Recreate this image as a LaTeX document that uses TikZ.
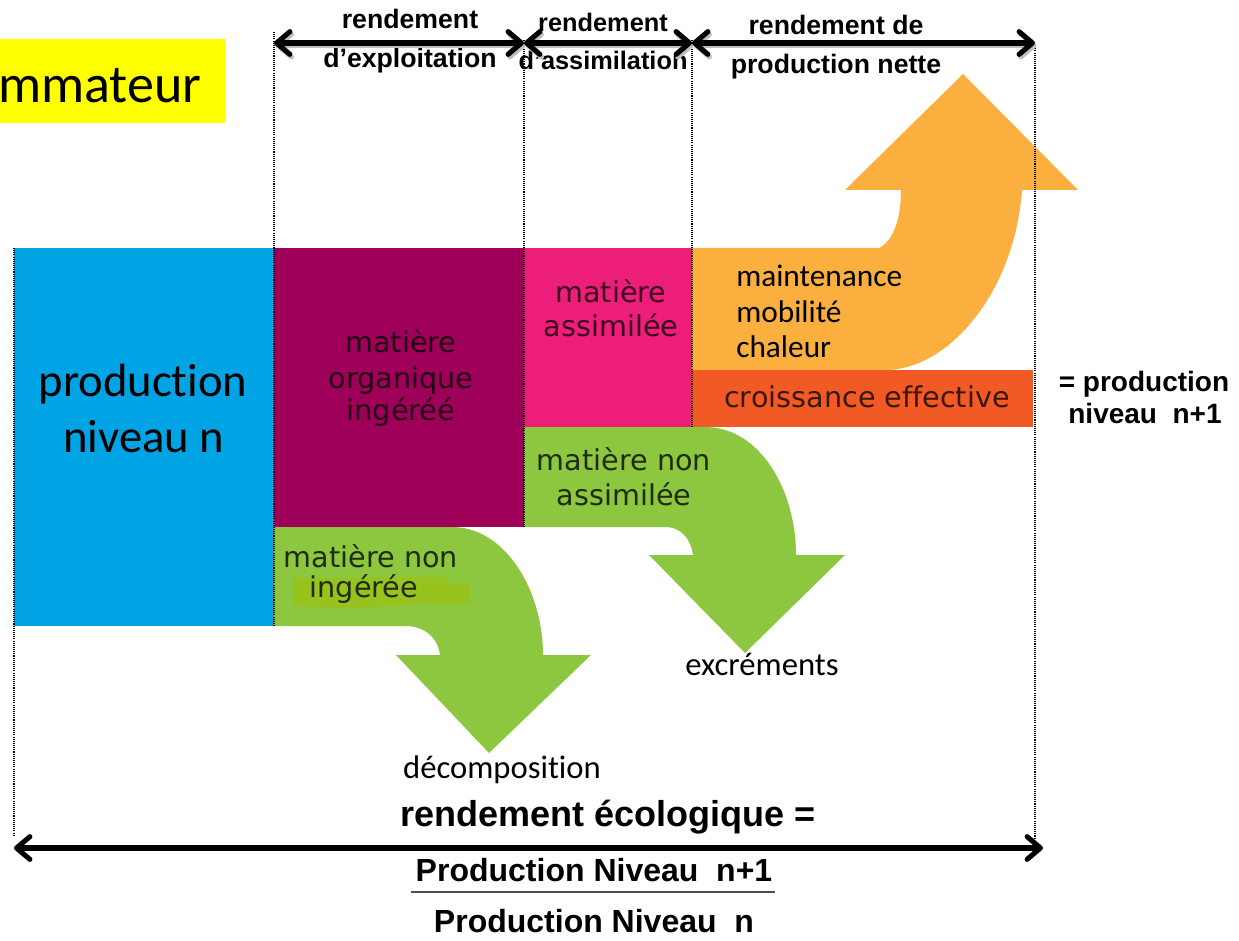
\documentclass[tikz,border=0pt]{standalone}
\usepackage{fontspec}
\setmainfont{Liberation Sans}
\newfontfamily\calfont{Carlito}[Ligatures=NoCommon]
\newfontfamily\verfont{DejaVu Sans}[Ligatures=NoCommon]
\usetikzlibrary{arrows.meta}

\definecolor{yellowbg}{RGB}{255,255,0}
\definecolor{bluebox}{RGB}{0,163,228}
\definecolor{purplebox}{RGB}{158,0,89}
\definecolor{pinkbox}{RGB}{237,30,121}
\definecolor{lightorange}{RGB}{250,175,62}
\definecolor{darkorange}{RGB}{241,90,36}
\definecolor{leafgreen}{RGB}{141,198,63}
\definecolor{limegreen}{RGB}{152,195,30}

\begin{document}
\begin{tikzpicture}[x=0.75pt,y=-0.75pt,
  txt/.style={inner sep=0pt, anchor=base},
  calsmall/.style={txt, font=\calfont\fontsize{23.5}{28}\selectfont},
  calbig/.style={txt, font=\calfont\fontsize{35}{42}\selectfont},
  verd/.style={txt, font=\verfont\fontsize{21.5}{26}\selectfont},
  boldlbl/.style={txt, font=\bfseries\fontsize{20}{24}\selectfont},
  measure/.style={line width=3.8pt,
    {Straight Barb[length=10pt,width=17pt,round]}-{Straight Barb[length=10pt,width=17pt,round]}},
  shade/.style={measure, draw=black!25, transform canvas={shift={(1.2pt,-2pt)}}},
  guide/.style={line width=0.8pt, dash pattern=on 0.8pt off 0.8pt}
]
\useasboundingbox (0,0) rectangle (1239,941);

% title strip, cut at the left edge
\fill[yellowbg] (0,39) rectangle (226,123);
\node[txt, anchor=base west, font=\calfont\fontsize{40.5}{48}\selectfont] (cons) at (-2,103) {mmateur};

% energy blocks
\fill[bluebox] (14,248) rectangle (274,626);
\fill[purplebox] (274,248) rectangle (524,527);
\fill[pinkbox] (524,248) rectangle (692,427);

% respiration arrow (upward)
\fill[lightorange] (692,248) -- (879,248) .. controls (895,240) and (901,215) .. (901,190)
  -- (845,190) -- (963,74) -- (1078,190) -- (1022,190)
  .. controls (1015,290) and (950,370) .. (885,370) -- (692,370) -- cycle;
\fill[darkorange] (692,370) rectangle (1033,427);

% losses (downward arrows)
\fill[leafgreen] (274,527) -- (452,527) .. controls (505,527) and (543,590) .. (543,655)
  -- (591,655) -- (489,753) -- (396,655) -- (440,655)
  .. controls (438,638) and (425,626) .. (405,626) -- (274,626) -- cycle;
\fill[leafgreen] (524,427) -- (705,427) .. controls (760,427) and (796,490) .. (796,555)
  -- (845,555) -- (745,653) -- (649,555) -- (693,555)
  .. controls (691,540) and (682,527) .. (665,527) -- (524,527) -- cycle;
\fill[limegreen] (293,578) -- (445,577) -- (452,584) -- (470,584) -- (470,604)
  -- (420,604) -- (340,609) -- (293,605) -- cycle;

% block texts
\node[calbig] (prod1) at (143,397) {production};
\node[calbig] (prod2) at (144,452) {niveau n};

\node[verd, text=black!78!purplebox] (ing1) at (401,353) {matière};
\node[verd, text=black!78!purplebox] (ing2) at (401,388) {organique};
\node[verd, text=black!78!purplebox] (ing3) at (401,420) {ingéréé};

\node[verd, text=black!75!pinkbox] (ass1) at (611,303) {matière};
\node[verd, text=black!75!pinkbox] (ass2) at (611,337) {assimilée};

\node[calsmall, anchor=base west] (resp1) at (736,287) {maintenance};
\node[calsmall, anchor=base west] (resp2) at (736,323) {mobilité};
\node[calsmall, anchor=base west] (resp3) at (736,358) {chaleur};

\node[verd, text=black!75!darkorange] (croiss) at (867,407) {croissance effective};

\node[verd, text=black!78!leafgreen] (nass1) at (624,470) {matière non};
\node[verd, text=black!78!leafgreen] (nass2) at (624,505) {assimilée};

\node[verd, text=black!78!leafgreen] (ning1) at (371,567) {matière non};
\node[verd, text=black!78!leafgreen] (ning2) at (364,597) {ingérée};

\node[calsmall, font=\calfont\fontsize{24.5}{29}\selectfont] (excr) at (762,675) {excréments};
\node[calsmall, font=\calfont\fontsize{24.5}{29}\selectfont] (decomp) at (502,778) {décomposition};

% efficiency labels
\node[boldlbl] (r1a) at (410,29) {rendement};
\node[boldlbl] (r1b) at (410,68) {d’exploitation};
\node[boldlbl, font=\bfseries\fontsize{19}{23}\selectfont] (r2a) at (603,32) {rendement};
\node[boldlbl, font=\bfseries\fontsize{19}{23}\selectfont] (r2b) at (603,70) {d’assimilation};
\node[boldlbl] (r3a) at (836,35) {rendement de};
\node[boldlbl] (r3b) at (836,74) {production nette};
\node[boldlbl, font=\bfseries\fontsize{21}{25}\selectfont] (np1) at (1144,392) {= production};
\node[boldlbl, font=\bfseries\fontsize{21}{25}\selectfont] (np2) at (1145,423) {niveau\ \ n+1};

\node[boldlbl, font=\bfseries\fontsize{27}{32}\selectfont] (eco) at (608,826) {rendement écologique =};
\node[boldlbl, font=\bfseries\fontsize{24}{29}\selectfont] (num) at (594,881) {Production Niveau\ \ n+1};
\node[boldlbl, font=\bfseries\fontsize{24}{29}\selectfont] (den) at (594,932) {Production Niveau\ \ n};
\coordinate (fracL) at (411,892);
\coordinate (fracR) at (775,892);
\draw[line width=1.5pt, black!70] (fracL) -- (fracR);

% guide lines between stages
\draw[guide] (14,248) -- (14,835);
\draw[guide] (274,32) -- (274,626);
\draw[guide] (524,40) -- (524,527);
\draw[guide] (692,40) -- (692,427);
\draw[guide] (1035,44) -- (1035,838);

% measuring arrows
\coordinate (t0) at (274,43);
\coordinate (t1) at (524,43);
\coordinate (t2) at (692,43);
\coordinate (t3) at (1035,43);
\coordinate (b0) at (14,848);
\coordinate (b1) at (1043,848);
\draw[shade] (t0) -- (t1);
\draw[shade] (t1) -- (t2);
\draw[shade] (t2) -- (t3);
\draw[measure] (t0) -- (t1);
\draw[measure] (t1) -- (t2);
\draw[measure] (t2) -- (t3);
\draw[measure] (b0) -- (b1);
\end{tikzpicture}
\end{document}
